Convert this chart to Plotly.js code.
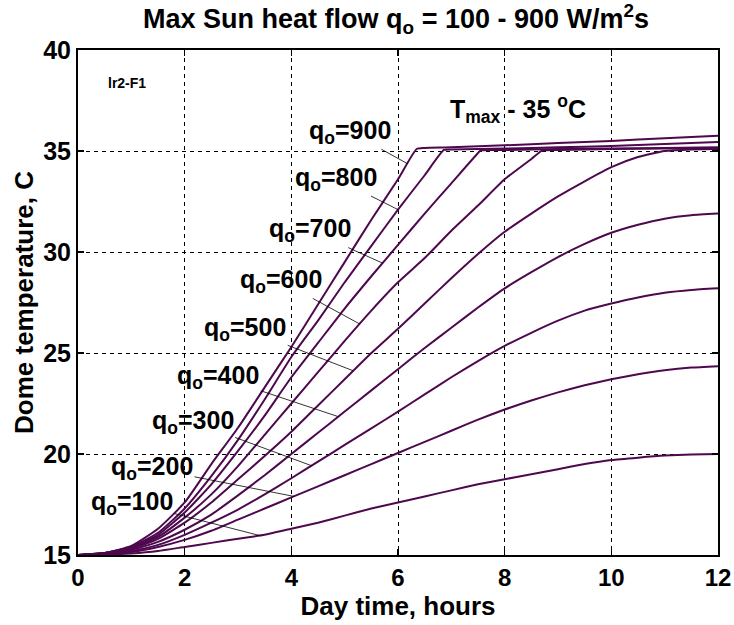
<!DOCTYPE html>
<html><head><meta charset="utf-8">
<script src="https://cdn.plot.ly/plotly-3.0.1.min.js"></script>
<style>html,body{margin:0;padding:0;background:#fff}</style>
</head><body><div id="chart" style="width:734px;height:625px"></div>
<script>
// Time grid (hours) shared by the non-saturating curves
const hours = [0,0.5,1,1.5,2,2.5,3,3.5,4,4.5,5,5.5,6,6.5,7,7.5,8,8.5,9,9.5,10,10.5,11,11.5,12];

// q0 = 900
const hours900 = [0,0.5,1,1.5,2,2.5,3,3.5,4,4.5,5,5.5,6,6.35,6.5,7,8,9,10,11,12];
const temp900  = [15,15.1,15.45,16.3,17.6,19.5,21.3,23.3,25.3,27.4,29.5,31.6,33.6,35.1,35.15,35.18,35.28,35.4,35.5,35.63,35.76];
// q0 = 800
const hours800 = [0,0.5,1,1.5,2,2.5,3,3.5,4,4.5,5,5.5,6,6.5,6.86,7,8,9,10,11,12];
const temp800  = [15,15.1,15.4,16.1,17.3,18.9,20.7,22.7,24.8,26.6,28.5,30.3,32.1,33.8,35.05,35.08,35.12,35.18,35.25,35.35,35.45];
// q0 = 700
const hours700 = [0,0.5,1,1.5,2,2.5,3,3.5,4,4.5,5,5.5,6,6.5,7,7.5,7.55,8,9,10,11,12];
const temp700  = [15,15.1,15.38,16.0,17.1,18.5,20.15,21.9,23.8,25.5,27.2,28.8,30.35,31.9,33.4,34.9,35.03,35.05,35.1,35.12,35.15,35.18];
// q0 = 600
const hours600 = [0,0.5,1,1.5,2,2.5,3,3.5,4,4.5,5,5.5,6,6.5,7,7.5,8,8.5,8.7,9,10,11,12];
const temp600  = [15,15.1,15.35,15.9,16.85,18.0,19.4,20.95,22.5,24.05,25.6,27.1,28.5,29.7,31.05,32.3,33.6,34.6,35.02,35.05,35.1,35.12,35.15];
// q0 = 500 .. 100 on the shared grid
const temp500 = [15,15.08,15.3,15.8,16.6,17.6,18.75,19.9,21.1,22.4,23.7,25.0,26.2,27.45,28.7,29.9,31.0,31.9,32.75,33.5,34.2,34.7,35.0,35.08,35.1];
const temp400 = [15,15.07,15.25,15.65,16.25,17.0,17.95,18.95,20.0,21.05,22.1,23.15,24.2,25.25,26.25,27.25,28.2,29.0,29.75,30.4,30.95,31.35,31.65,31.82,31.9];
const temp300 = [15,15.05,15.2,15.5,16.0,16.6,17.25,18.0,18.8,19.62,20.45,21.27,22.1,22.95,23.8,24.6,25.35,26.0,26.6,27.1,27.45,27.75,27.98,28.12,28.2];
const temp200 = [15,15.04,15.15,15.4,15.75,16.2,16.75,17.3,17.85,18.4,18.95,19.5,20.05,20.6,21.15,21.7,22.2,22.65,23.05,23.4,23.7,23.95,24.15,24.28,24.35];
const temp100 = [15,15.02,15.08,15.2,15.4,15.6,15.8,16.0,16.3,16.6,16.95,17.3,17.6,17.9,18.2,18.5,18.75,19.0,19.25,19.5,19.7,19.82,19.92,19.97,20.0];

// Curve labels and the curve points their leader lines touch
const labelQ     = [900, 800, 700, 600, 500, 400, 300, 200, 100];
const labelHour  = [6.18, 6.0, 5.71, 5.28, 5.16, 4.88, 4.38, 4.05, 3.41];
const labelTemp  = [34.37, 32.1, 29.45, 26.44, 24.12, 21.85, 19.42, 17.9, 15.96];
const labelDx    = [-58, -62, -73, -79, -108, -120, -119, -142, -128];
const labelDy    = [-32, -31, -33, -43, -42, -40, -44, -28, -33];

const xTicks = [0,2,4,6,8,10,12];
const yTicks = [15,20,25,30,35,40];

const FONT = 'Liberation Sans, Arial, sans-serif';
const lineColor = '#4e084e';

const series = [
  [hours900, temp900], [hours800, temp800], [hours700, temp700], [hours600, temp600],
  [hours, temp500], [hours, temp400], [hours, temp300], [hours, temp200], [hours, temp100]
];
const traces = series.map((s, i) => ({
  x: s[0], y: s[1], type: 'scatter', mode: 'lines',
  name: 'q0=' + labelQ[i],
  line: {color: lineColor, width: 2, shape: 'spline', smoothing: 0.5},
  hoverinfo: 'skip'
}));

const annotations = labelQ.map((q, i) => ({
  x: labelHour[i], y: labelTemp[i], xref: 'x', yref: 'y',
  text: '<b>q<sub>o</sub>=' + q + '</b>',
  showarrow: true, arrowhead: 0, arrowwidth: 0.8, arrowcolor: '#000',
  ax: labelDx[i], ay: labelDy[i],
  font: {family: FONT, size: 25, color: '#000'}
}));
annotations.push({
  x: 6.93, y: 37.1, xref: 'x', yref: 'y', xanchor: 'left', yanchor: 'middle',
  text: '<b>T<sub>max</sub> - 35 <sup>o</sup>C</b>', showarrow: false,
  font: {family: FONT, size: 25, color: '#000'}
});
annotations.push({
  x: 0.52, y: 38.35, xref: 'x', yref: 'y', xanchor: 'left', yanchor: 'middle',
  text: '<b>lr2-F1</b>', showarrow: false,
  font: {family: FONT, size: 14, color: '#000'}
});

const layout = {
  width: 734, height: 625,
  margin: {l: 78, r: 16, t: 50, b: 70},
  paper_bgcolor: '#fff', plot_bgcolor: '#fff',
  showlegend: false,
  title: {
    text: '<b>Max Sun heat flow q<sub>o</sub> = 100 - 900 W/m<sup>2</sup>s</b>',
    x: 0.497, xref: 'paper', y: 0.97, yref: 'container', xanchor: 'center', yanchor: 'middle',
    font: {family: FONT, size: 27, color: '#000'}
  },
  xaxis: {
    range: [0, 12], tickvals: xTicks, ticktext: xTicks.map(String),
    showline: true, linecolor: '#000', linewidth: 2, mirror: 'ticks',
    ticks: 'inside', ticklen: 6, tickwidth: 1.5, tickcolor: '#000',
    showgrid: true, gridcolor: '#000', gridwidth: 1, griddash: '4px,4px',
    zeroline: false,
    tickfont: {family: FONT, size: 24, color: '#000', weight: 'bold'},
    title: {text: '<b>Day time, hours</b>', font: {family: FONT, size: 26, color: '#000'}, standoff: 4}
  },
  yaxis: {
    range: [15, 40], tickvals: yTicks, ticktext: yTicks.map(String),
    showline: true, linecolor: '#000', linewidth: 2, mirror: 'ticks',
    ticks: 'inside', ticklen: 6, tickwidth: 1.5, tickcolor: '#000',
    showgrid: true, gridcolor: '#000', gridwidth: 1, griddash: '4px,4px',
    zeroline: false,
    tickfont: {family: FONT, size: 25, color: '#000', weight: 'bold'},
    title: {text: '<b>Dome temperature, C</b>', font: {family: FONT, size: 26, color: '#000'}, standoff: 2}
  },
  annotations: annotations
};

Plotly.newPlot('chart', traces, layout, {displayModeBar: false, staticPlot: true});
</script></body></html>
